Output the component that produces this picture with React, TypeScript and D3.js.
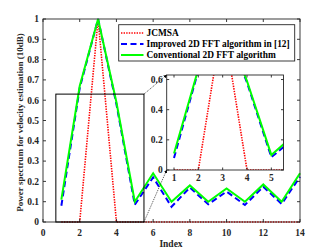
import React, { useEffect, useRef } from "react";
import * as d3 from "d3";

const indexes = [1, 2, 3, 4, 5, 6, 7, 8, 9, 10, 11, 12, 13, 14];
const jcmsa = [0, 0, 1, 0, 0, 0, 0, 0, 0, 0, 0, 0, 0, 0];
const improved = [0.08, 0.66, 1, 0.58, 0.085, 0.22, 0.075, 0.17, 0.087, 0.15, 0.084, 0.174, 0.089, 0.223];
const conventional = [0.11, 0.67, 1, 0.59, 0.1, 0.24, 0.1, 0.18, 0.1, 0.165, 0.1, 0.185, 0.1, 0.24];
const xTicks = [0, 2, 4, 6, 8, 10, 12, 14];
const yTicks = [0, 0.1, 0.2, 0.3, 0.4, 0.5, 0.6, 0.7, 0.8, 0.9, 1];
const insetXTicks = [1, 2, 3, 4, 5];
const insetYTicks = [0, 0.2, 0.4, 0.6];
const zoomX = [0.7, 5.5];
const zoomY = [0, 0.63];

const series = [
  { name: "JCMSA", values: jcmsa, color: "#ff0000", dash: "1.4,1.2", width: 1.6 },
  { name: "Improved 2D FFT algorithm in [12]", values: improved, color: "#0000ff", dash: "6,3.5", width: 2 },
  { name: "Conventional 2D FFT algorithm", values: conventional, color: "#00ff00", dash: "none", width: 2 },
];

const FONT = "'Liberation Serif', 'Times New Roman', serif";

const App = () => {
  const svgRef = useRef(null);

  useEffect(() => {
    const svg = d3.select(svgRef.current);
    svg.selectAll("*").remove();

    const left = 43, right = 300, top = 19, bottom = 222;
    const x = d3.scaleLinear().domain([0, 14]).range([left, right]);
    const y = d3.scaleLinear().domain([0, 1]).range([bottom, top]);

    svg.append("rect").attr("width", 332).attr("height", 250).attr("fill", "#fff");

    const drawLines = (g, xs, ys, clipId) => {
      const line = d3
        .line<number>()
        .x((_, i) => xs(indexes[i]))
        .y((d) => ys(d));
      series.forEach((s) => {
        g.append("path")
          .datum(s.values)
          .attr("fill", "none")
          .attr("stroke", s.color)
          .attr("stroke-width", s.width)
          .attr("stroke-dasharray", s.dash)
          .attr("clip-path", clipId ? `url(#${clipId})` : null)
          .attr("d", line);
      });
    };

    // main lines
    drawLines(svg.append("g"), x, y, null);

    // main frame + ticks
    const axisColor = "#262626";
    const frame = svg.append("g").attr("stroke", axisColor).attr("stroke-width", 0.9);
    frame.append("rect")
      .attr("x", left).attr("y", top)
      .attr("width", right - left).attr("height", bottom - top)
      .attr("fill", "none");
    xTicks.forEach((t) => {
      frame.append("line").attr("x1", x(t)).attr("x2", x(t)).attr("y1", bottom).attr("y2", bottom - 3);
      frame.append("line").attr("x1", x(t)).attr("x2", x(t)).attr("y1", top).attr("y2", top + 3);
    });
    yTicks.forEach((t) => {
      frame.append("line").attr("x1", left).attr("x2", left + 3).attr("y1", y(t)).attr("y2", y(t));
      frame.append("line").attr("x1", right).attr("x2", right - 3).attr("y1", y(t)).attr("y2", y(t));
    });

    const labels = svg.append("g")
      .attr("font-family", FONT)
      .attr("font-weight", "bold")
      .attr("font-size", 9.5)
      .attr("fill", "#262626");
    xTicks.forEach((t) => {
      labels.append("text").attr("x", x(t)).attr("y", 236).attr("text-anchor", "middle").text(t);
    });
    yTicks.forEach((t) => {
      labels.append("text").attr("x", 39).attr("y", y(t) + 3.3).attr("text-anchor", "end").text(t);
    });
    labels.append("text").attr("x", 171).attr("y", 247).attr("text-anchor", "middle").text("Index");
    labels.append("text")
      .attr("transform", `translate(23,${(top + bottom) / 2 + 2}) rotate(-90)`)
      .attr("text-anchor", "middle")
      .attr("font-size", 9)
      .text("Power spectrum for velocity estimation (10dB)");

    // zoom rectangle
    svg.append("rect")
      .attr("x", x(zoomX[0])).attr("y", y(zoomY[1]))
      .attr("width", x(zoomX[1]) - x(zoomX[0]))
      .attr("height", y(zoomY[0]) - y(zoomY[1]))
      .attr("fill", "none").attr("stroke", "#000").attr("stroke-width", 1);

    // inset
    const iL = 166.7, iR = 283.5, iT = 75, iB = 170;
    const ix = d3.scaleLinear().domain(zoomX).range([iL, iR]);
    const iy = d3.scaleLinear().domain(zoomY).range([iB, iT]);

    const defs = svg.append("defs");
    defs.append("clipPath").attr("id", "insetClip")
      .append("rect").attr("x", iL).attr("y", iT).attr("width", iR - iL).attr("height", iB - iT);
    defs.append("marker")
      .attr("id", "arrow").attr("viewBox", "0 0 10 10")
      .attr("refX", 9).attr("refY", 5)
      .attr("markerWidth", 5).attr("markerHeight", 5)
      .attr("orient", "auto")
      .append("path").attr("d", "M0,0 L10,5 L0,10 z").attr("fill", "#000");

    svg.append("rect").attr("x", iL).attr("y", iT).attr("width", iR - iL).attr("height", iB - iT).attr("fill", "#fff");
    drawLines(svg.append("g"), ix, iy, "insetClip");

    const iframe = svg.append("g").attr("stroke", axisColor).attr("stroke-width", 0.9);
    iframe.append("rect")
      .attr("x", iL).attr("y", iT).attr("width", iR - iL).attr("height", iB - iT)
      .attr("fill", "none");
    insetXTicks.forEach((t) => {
      iframe.append("line").attr("x1", ix(t)).attr("x2", ix(t)).attr("y1", iB).attr("y2", iB - 2.5);
      iframe.append("line").attr("x1", ix(t)).attr("x2", ix(t)).attr("y1", iT).attr("y2", iT + 2.5);
    });
    insetYTicks.forEach((t) => {
      iframe.append("line").attr("x1", iL).attr("x2", iL + 2.5).attr("y1", iy(t)).attr("y2", iy(t));
      iframe.append("line").attr("x1", iR).attr("x2", iR - 2.5).attr("y1", iy(t)).attr("y2", iy(t));
    });
    insetXTicks.forEach((t) => {
      labels.append("text").attr("x", ix(t)).attr("y", iB + 11).attr("text-anchor", "middle").text(t);
    });
    insetYTicks.forEach((t) => {
      labels.append("text").attr("x", iL - 4).attr("y", iy(t) + 3.3).attr("text-anchor", "end").text(t);
    });

    // connecting arrows
    const arrows = [
      [x(zoomX[1]), y(zoomY[1]), iL, iT],
      [x(zoomX[1]), y(zoomY[0]), iL, iB],
    ];
    arrows.forEach(([x1, y1, x2, y2]) => {
      svg.append("line")
        .attr("x1", x1).attr("y1", y1).attr("x2", x2).attr("y2", y2)
        .attr("stroke", "#000").attr("stroke-width", 0.7)
        .attr("stroke-dasharray", "1,1")
        .attr("marker-end", "url(#arrow)");
    });

    // legend
    const lg = svg.append("g");
    lg.append("rect")
      .attr("x", 118.7).attr("y", 24.7).attr("width", 176).attr("height", 36.3)
      .attr("fill", "#fff").attr("stroke", "#262626").attr("stroke-width", 0.9);
    series.forEach((s, i) => {
      const ly = 33 + i * 11;
      lg.append("line")
        .attr("x1", 121).attr("x2", 143.5).attr("y1", ly).attr("y2", ly)
        .attr("stroke", s.color).attr("stroke-width", s.width)
        .attr("stroke-dasharray", s.dash);
      lg.append("text")
        .attr("x", 146.5).attr("y", ly + 3.3)
        .attr("font-family", FONT).attr("font-weight", "bold").attr("font-size", 9.4)
        .attr("fill", "#000")
        .text(s.name);
    });
  }, []);

  return (
    <svg
      ref={svgRef}
      width={332}
      height={250}
      style={{ position: "absolute", left: 0, top: 0, display: "block" }}
    />
  );
};

export default App;
